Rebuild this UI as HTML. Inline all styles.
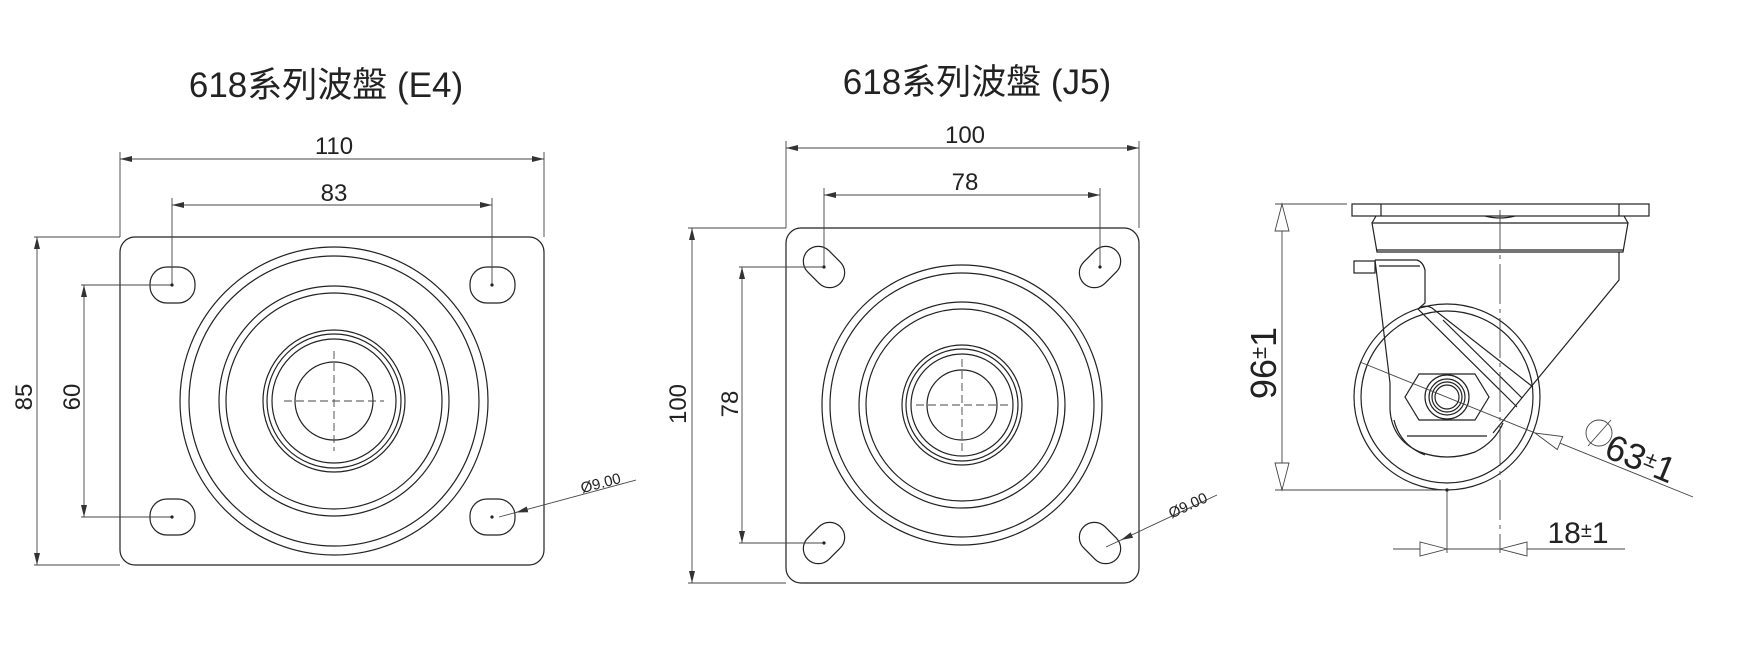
<!DOCTYPE html>
<html><head><meta charset="utf-8"><style>
html,body{margin:0;padding:0;background:#fff;}
svg{display:block;}
text{font-family:"Liberation Sans","Noto Sans CJK TC",sans-serif;fill:#222;}
</style></head><body>
<svg width="1760" height="663" viewBox="0 0 1760 663" xmlns="http://www.w3.org/2000/svg">
<defs>
<marker id="a" viewBox="0 0 12 6" refX="12" refY="3" markerWidth="12" markerHeight="6" orient="auto-start-reverse" markerUnits="userSpaceOnUse"><path d="M0,0 L12,3 L0,6 Z" fill="#333"/></marker>
</defs>
<g fill="none" stroke="#222" stroke-width="1.2">
<!-- ===== E4 ===== -->
<rect x="120" y="237" width="424" height="328" rx="15"/>
<rect x="150" y="267" width="45" height="36" rx="17"/>
<rect x="470" y="267" width="45" height="36" rx="17"/>
<rect x="150" y="499" width="45" height="36" rx="17"/>
<rect x="470" y="499" width="45" height="36" rx="17"/>
<circle cx="334" cy="401" r="154"/>
<circle cx="334" cy="401" r="145"/>
<circle cx="334" cy="401" r="115"/>
<circle cx="334" cy="401" r="108"/>
<circle cx="334" cy="401" r="71"/>
<circle cx="334" cy="401" r="67"/>
<circle cx="334" cy="401" r="62"/>
<circle cx="334" cy="401" r="39"/>
</g>
<g stroke="#444" stroke-width="0.9" fill="none">
<path d="M284 401H384M334 351V451" stroke-dasharray="8,4"/>
<path d="M120 237V152M544 237V152M172 285V198M492 285V198"/>
<path d="M120 159H544" marker-start="url(#a)" marker-end="url(#a)"/>
<path d="M172 205H492" marker-start="url(#a)" marker-end="url(#a)"/>
<path d="M81 285H172M81 517H172M34 237H120M34 565H120"/>
<path d="M84 285V517" marker-start="url(#a)" marker-end="url(#a)"/>
<path d="M37 237V565" marker-start="url(#a)" marker-end="url(#a)"/>
<path d="M499 517L636 480"/>
<path d="M527 509.5L516 512.5" marker-end="url(#a)"/>
</g>
<g fill="#222"><circle cx="172" cy="285" r="1.6"/><circle cx="492" cy="285" r="1.6"/><circle cx="172" cy="517" r="1.6"/><circle cx="492" cy="517" r="1.6"/></g>
<text x="326" y="97" font-size="35" text-anchor="middle">618系列波盤 (E4)</text>
<text x="334" y="154" font-size="24" text-anchor="middle">110</text>
<text x="334" y="201" font-size="24" text-anchor="middle">83</text>
<text transform="translate(80,397) rotate(-90)" font-size="24" text-anchor="middle">60</text>
<text transform="translate(32,397) rotate(-90)" font-size="24" text-anchor="middle">85</text>
<text transform="translate(602,488) rotate(-15)" font-size="15" text-anchor="middle">Ø9.00</text>

<!-- ===== J5 ===== -->
<g fill="none" stroke="#222" stroke-width="1.2">
<rect x="786" y="228" width="353" height="355" rx="15"/>
<rect x="801" y="252" width="46" height="30" rx="15" transform="rotate(45 824 267)"/>
<rect x="1077" y="252" width="46" height="30" rx="15" transform="rotate(-45 1100 267)"/>
<rect x="801" y="528" width="46" height="30" rx="15" transform="rotate(-45 824 543)"/>
<rect x="1077" y="528" width="46" height="30" rx="15" transform="rotate(45 1100 543)"/>
<circle cx="962" cy="405" r="140"/>
<circle cx="962" cy="405" r="132"/>
<circle cx="962" cy="405" r="103"/>
<circle cx="962" cy="405" r="96"/>
<circle cx="962" cy="405" r="60"/>
<circle cx="962" cy="405" r="56"/>
<circle cx="962" cy="405" r="51"/>
<circle cx="962" cy="405" r="35"/>
</g>
<g stroke="#444" stroke-width="0.9" fill="none">
<path d="M916 405H1008M962 359V451" stroke-dasharray="8,4"/>
<path d="M786 228V141M1139 228V141M824 267V188M1100 267V188"/>
<path d="M786 148H1139" marker-start="url(#a)" marker-end="url(#a)"/>
<path d="M824 195H1100" marker-start="url(#a)" marker-end="url(#a)"/>
<path d="M739 267H824M739 543H824M688 228H786M688 583H786"/>
<path d="M742 267V543" marker-start="url(#a)" marker-end="url(#a)"/>
<path d="M692 228V583" marker-start="url(#a)" marker-end="url(#a)"/>
<path d="M1106 547L1217 495"/>
<path d="M1132 535L1121 540" marker-end="url(#a)"/>
</g>
<g fill="#222"><circle cx="824" cy="267" r="1.6"/><circle cx="1100" cy="267" r="1.6"/><circle cx="824" cy="543" r="1.6"/></g>
<text x="977" y="94" font-size="35" text-anchor="middle">618系列波盤 (J5)</text>
<text x="965" y="143" font-size="24" text-anchor="middle">100</text>
<text x="965" y="190" font-size="24" text-anchor="middle">78</text>
<text transform="translate(738,404) rotate(-90)" font-size="24" text-anchor="middle">78</text>
<text transform="translate(686,404) rotate(-90)" font-size="24" text-anchor="middle">100</text>
<text transform="translate(1190,510) rotate(-25)" font-size="15" text-anchor="middle">Ø9.00</text>

<!-- ===== Side view ===== -->
<g fill="none" stroke="#222" stroke-width="1.2">
<rect x="1352" y="204" width="297" height="12"/>
<path d="M1381 204V216M1619 204V216"/>
<path d="M1485 216Q1500 220 1515 216"/>
<path d="M1372 223H1628L1623 252H1377Z"/>
<path d="M1376 216L1372 223M1624 216L1628 223"/>
<path d="M1377 250H1623"/>
<path d="M1619 252V280L1493 433"/>
<path d="M1375 260L1390 383V410"/>
<rect x="1354" y="261" width="21" height="12"/>
<path d="M1375 260H1417Q1423 262 1425 270V303L1418 309L1517 407"/>
<path d="M1418 309Q1425 304 1432 308L1533 387"/>
<path d="M1443 320L1522 398"/>
<path d="M1379 266H1420"/>
<circle cx="1447" cy="397" r="93"/>
<circle cx="1447" cy="397" r="86"/>
<path d="M1390 410Q1392 440 1420 452Q1447 462 1475 452Q1495 442 1503 423"/>
<path d="M1394 420Q1400 445 1425 455"/>
<path d="M1407 436H1487"/>
<path d="M1475 374L1489 397L1475 420H1419L1405 397L1419 374Z"/>
<circle cx="1447" cy="397" r="22"/>
<circle cx="1447" cy="397" r="18"/>
<circle cx="1447" cy="397" r="15"/>
<circle cx="1447" cy="397" r="12"/>
</g>
<g stroke="#444" stroke-width="0.9" fill="none">
<path d="M1500 210V553" stroke-dasharray="40,5,4,5"/>
<path d="M1275 204H1347M1275 490H1447M1447 490V553"/>
<path d="M1282 204V490"/>
<path d="M1282 204L1275 231H1289Z M1282 490L1275 463H1289Z" fill="#fff"/>
<path d="M1360 362L1693 497"/>
<path d="M1535 433L1557.3 449.5L1562.7 436.5Z" fill="#fff"/>
<path d="M1393 549H1625"/>
<path d="M1447 549L1420 542V556Z M1500 549L1527 542V556Z" fill="#fff"/>
<circle cx="1599" cy="433" r="13"/>
<path d="M1588 446L1611 420"/>
</g>
<circle cx="1447" cy="490" r="1.6" fill="#222"/>
<text transform="translate(1276,363) rotate(-90)" font-size="36" text-anchor="middle">96<tspan font-size="22" dy="-10">±</tspan><tspan dy="10">1</tspan></text>
<text transform="translate(1636,470) rotate(22.5)" font-size="36" text-anchor="middle">63<tspan font-size="22" dy="-8">±</tspan><tspan dy="8">1</tspan></text>
<text x="1578" y="543" font-size="30" text-anchor="middle">18<tspan font-size="20" dy="-6">±</tspan><tspan dy="6">1</tspan></text>
</svg>
</body></html>
